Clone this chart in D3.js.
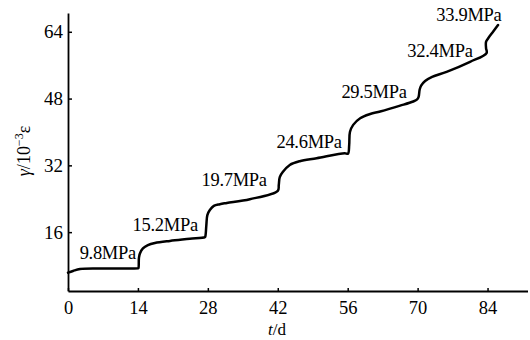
<!DOCTYPE html>
<html>
<head>
<meta charset="utf-8">
<script src="https://cdn.jsdelivr.net/npm/d3@7"></script>
<style>
  html, body { margin: 0; padding: 0; background: #fff; }
  svg { display: block; }
  svg text { font-family: "Liberation Serif", "Times New Roman", Times, "DejaVu Serif", serif !important; fill: #000; }
</style>
</head>
<body>
<svg id="chart" width="530" height="340"></svg>
<script>
// ---- data ----
const xTicks = [0, 14, 28, 42, 56, 70, 84];
const yTicks = [16, 32, 48, 64];
// time (days) and shear strain gamma (10^-3)
const tDays = [0, 1, 2.4, 6.4, 14.0, 14.1, 14.2, 14.4, 15.0, 16.0, 17.4, 20.4, 24.4, 27.4,
  27.5, 27.7, 27.9, 28.4, 29.2, 30.4, 31.8, 36.4, 42.0,
  42.2, 42.4, 43.0, 44.4, 46.4, 49.8, 55.4, 56.05,
  56.3, 56.45, 57.1, 58.5, 60.5, 62.5, 66.5, 69.1,
  69.9, 70.2, 70.4, 70.7, 71.5, 72.9, 75.8, 80.5, 83.8,
  83.7, 83.7, 84.1, 85.1, 86.1];
const gamma = [6.3, 6.7, 7.17, 7.3, 7.35, 7.4, 9.8, 10.9, 12.1, 12.9, 13.4, 13.9, 14.4, 14.8,
  15.0, 17.7, 20.1, 21.3, 22.3, 22.7, 23.0, 23.9, 25.9,
  27.3, 29.2, 30.4, 32.1, 33.0, 33.7, 34.9, 34.8,
  36.9, 40.0, 41.7, 43.3, 44.3, 44.9, 46.3, 47.3,
  47.8, 48.4, 50.1, 51.1, 52.2, 53.2, 54.4, 56.8, 58.9,
  60.1, 61.6, 62.4, 64.0, 65.6];
// stress stage labels (MPa) and their anchor (end of text) in data units
const stressLabels = ["9.8MPa", "15.2MPa", "19.7MPa", "24.6MPa", "29.5MPa", "32.4MPa", "33.9MPa"];
const labelT = [13.6, 26.0, 39.8, 54.8, 67.8, 81.0, 86.8];
const labelG = [9.5, 16.2, 27.0, 36.1, 48.1, 57.9, 66.6];

// ---- scales ----
const svg = d3.select("#chart");
const x = d3.scaleLinear().domain([0, 92]).range([68, 527.5]);
const y = d3.scaleLinear().domain([1.9, 68.5]).range([291, 13]);
const serif = "'Liberation Serif', 'Times New Roman', Times, serif";

// ---- axes ----
const xAxis = d3.axisBottom(x).tickValues(xTicks).tickSizeInner(-3).tickSizeOuter(0).tickPadding(10);
const gx = svg.append("g").attr("transform", `translate(0,${y(1.9)})`).call(xAxis)
  .attr("font-family", serif);
gx.select(".domain").attr("stroke", "#000").attr("stroke-width", 1.8);
gx.selectAll(".tick line").attr("stroke", "#000").attr("stroke-width", 1.5);
gx.selectAll(".tick text").attr("font-size", 18.5).attr("dy", "0.71em");

const yAxis = d3.axisLeft(y).tickValues(yTicks).tickSizeInner(-4).tickSizeOuter(0).tickPadding(5);
const gy = svg.append("g").attr("transform", `translate(${x(0)},0)`).call(yAxis)
  .attr("font-family", serif);
gy.select(".domain").attr("stroke", "#000").attr("stroke-width", 1.8);
gy.selectAll(".tick line").attr("stroke", "#000").attr("stroke-width", 1.5);
gy.selectAll(".tick text").attr("font-size", 19);

// ---- curve ----
const pts = tDays.map((t, i) => [t, gamma[i]]);
const line = d3.line().x(d => x(d[0])).y(d => y(d[1])).curve(d3.curveCatmullRom.alpha(0.5));
svg.append("path").datum(pts).attr("d", line)
  .attr("fill", "none").attr("stroke", "#000").attr("stroke-width", 2.5)
  .attr("stroke-linejoin", "round").attr("stroke-linecap", "round");

// ---- stage labels ----
svg.append("g").attr("font-family", serif).selectAll("text").data(stressLabels).join("text")
  .attr("x", (d, i) => x(labelT[i]))
  .attr("y", (d, i) => y(labelG[i]))
  .attr("text-anchor", "end")
  .attr("font-size", 18.5)
  .attr("letter-spacing", -0.3)
  .text(d => d);

// ---- axis titles ----
const xt = svg.append("text").attr("x", 277).attr("y", 335).attr("text-anchor", "middle")
  .attr("font-size", 17).attr("font-family", serif);
xt.append("tspan").attr("font-style", "italic").text("t");
xt.append("tspan").text("/d");

const yt = svg.append("text").attr("transform", "translate(30,151) rotate(-90)")
  .attr("text-anchor", "middle").attr("font-size", 18).attr("font-family", serif);
yt.append("tspan").attr("font-style", "italic").text("γ");
yt.append("tspan").text("/10");
yt.append("tspan").attr("font-size", 12).attr("dy", -7).text("−3");
yt.append("tspan").attr("dy", 7).text("ε");
</script>
</body>
</html>
